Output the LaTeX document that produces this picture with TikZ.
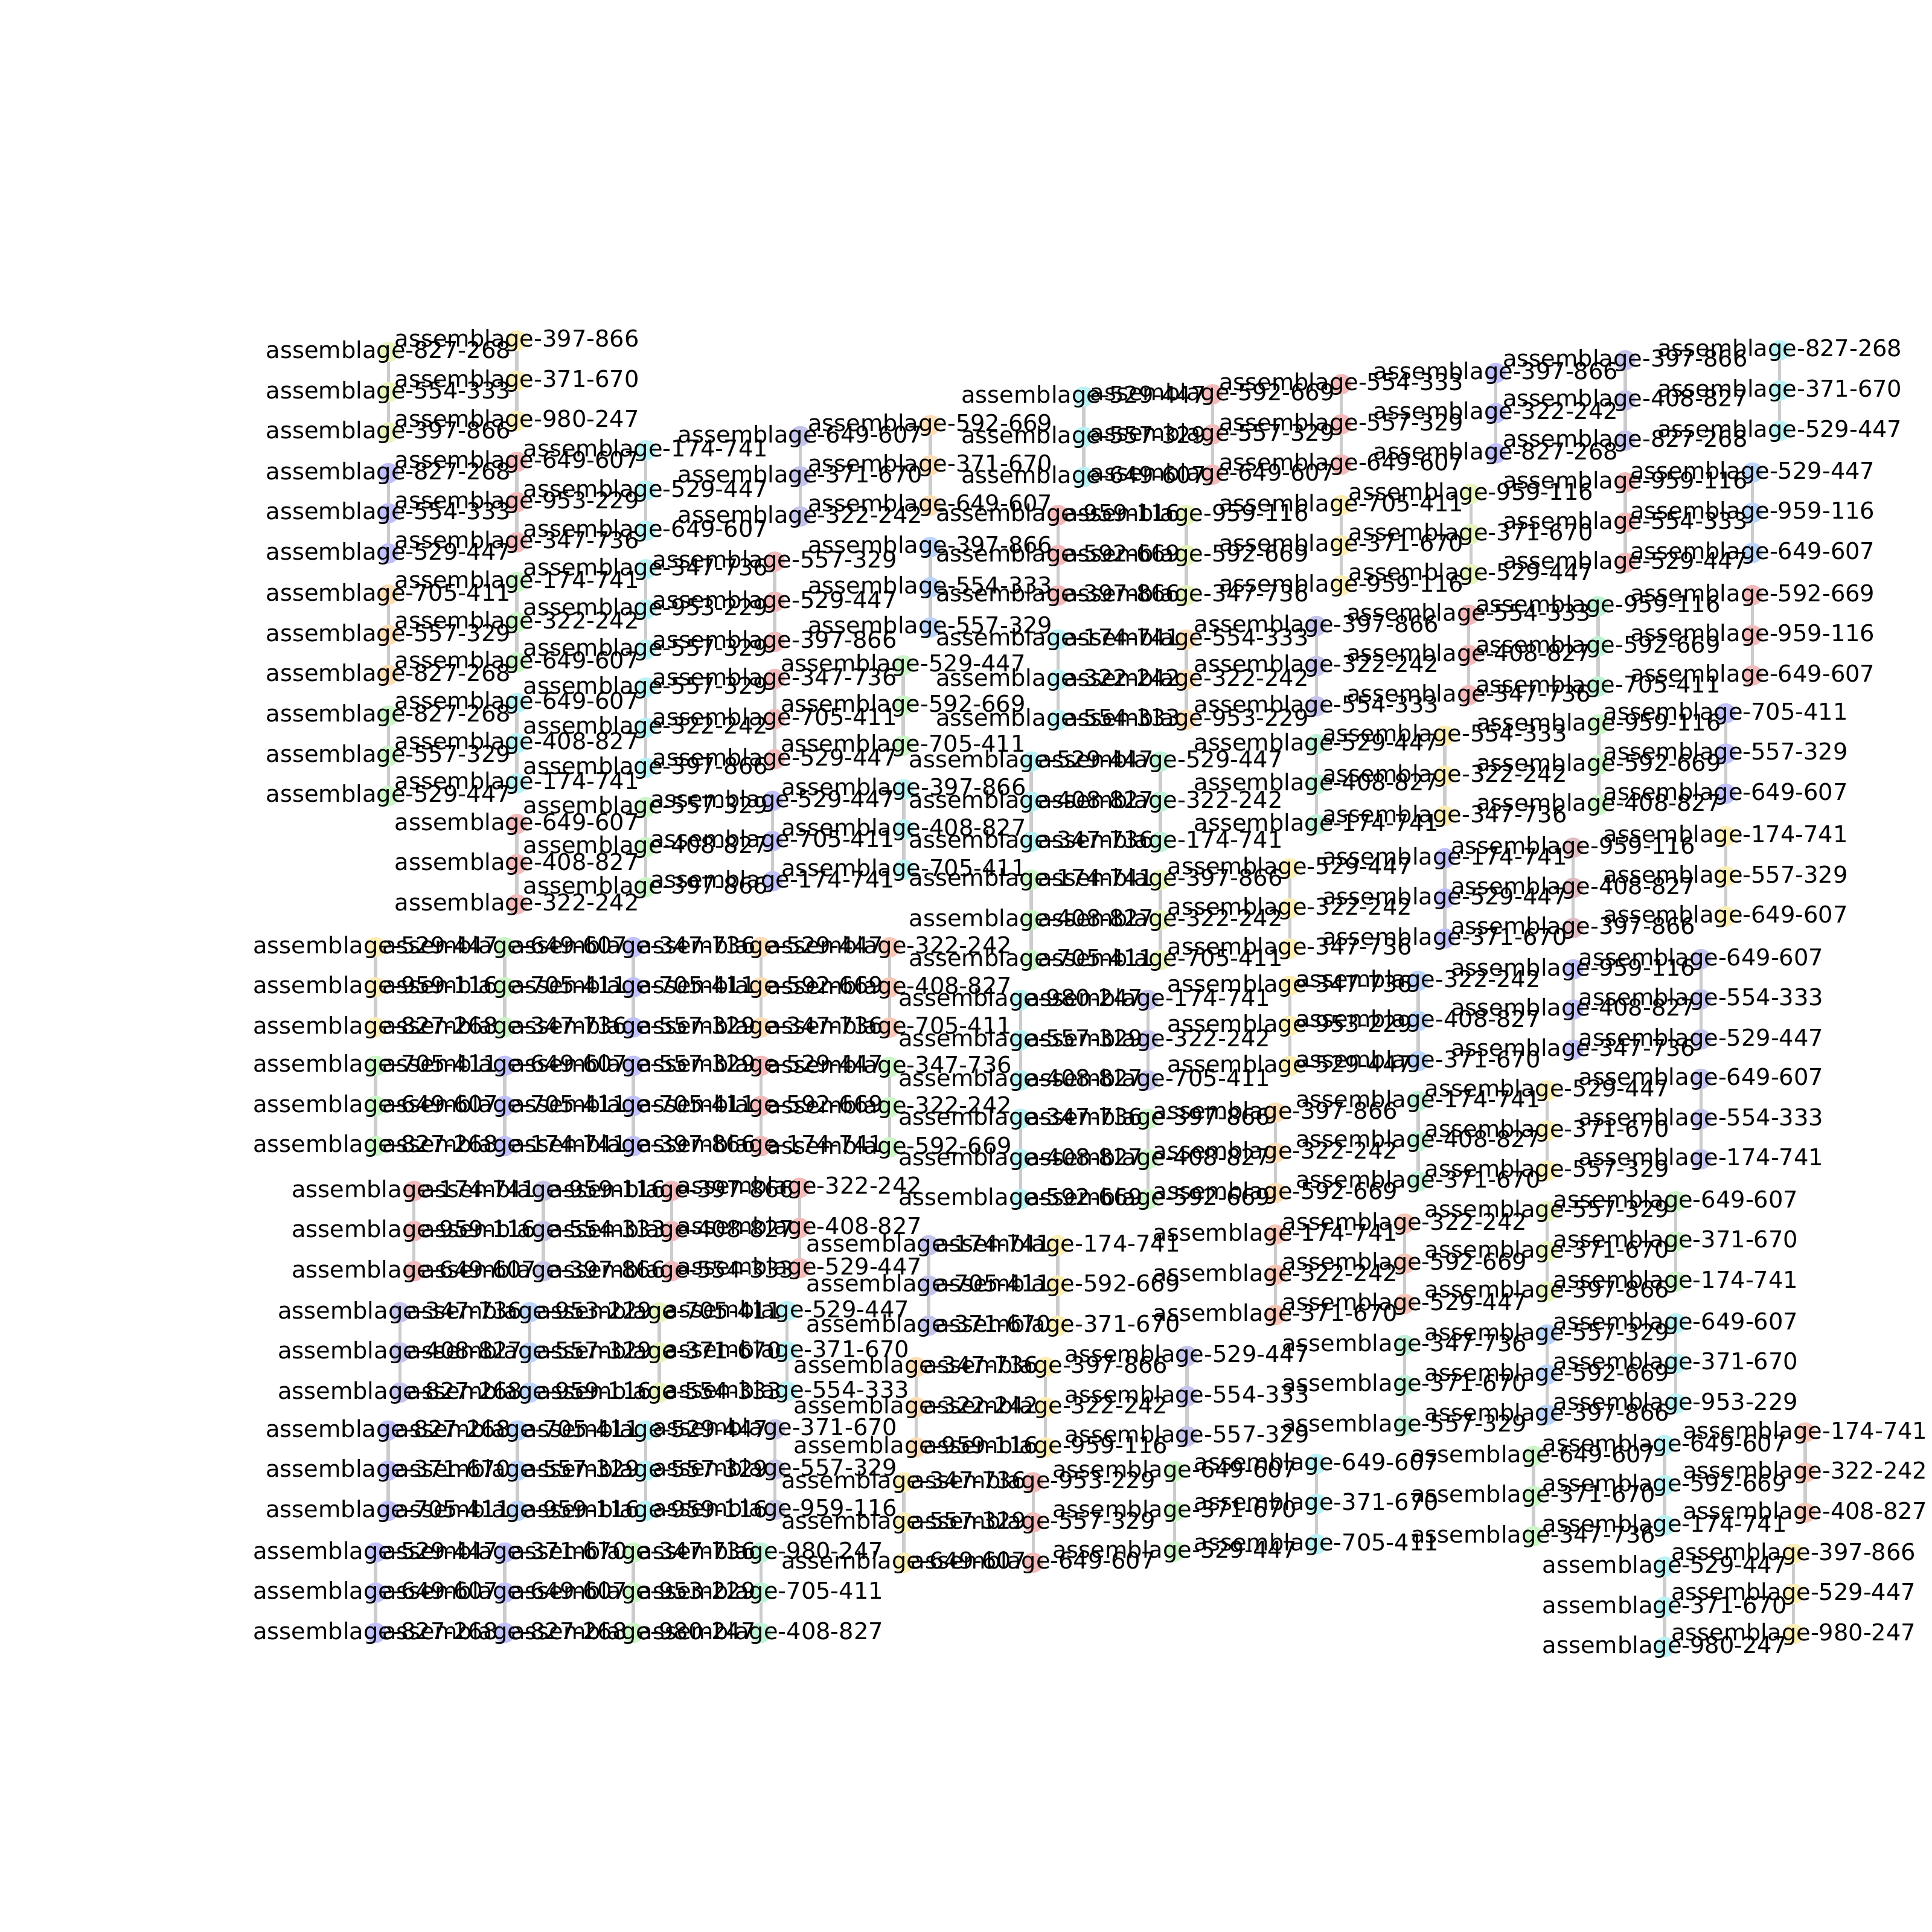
\documentclass[tikz,border=0pt]{standalone}
\usepackage{fontspec}
\setmainfont{DejaVu Sans}
\pgfdeclarelayer{bg}\pgfdeclarelayer{dots}
\pgfsetlayers{bg,dots,main}
\definecolor{YG}{RGB}{230,245,190}
\definecolor{YL}{RGB}{253,238,182}
\definecolor{BV}{RGB}{192,192,250}
\definecolor{RD}{RGB}{242,186,186}
\definecolor{CY}{RGB}{186,242,245}
\definecolor{OR}{RGB}{253,221,182}
\definecolor{LG}{RGB}{204,245,200}
\definecolor{LB}{RGB}{186,212,250}
\definecolor{VI}{RGB}{196,196,236}
\definecolor{MT}{RGB}{192,242,216}
\definecolor{MV}{RGB}{222,188,194}
\definecolor{SA}{RGB}{248,198,182}
\definecolor{VG}{RGB}{198,198,228}
\definecolor{LN}{RGB}{204,204,204}
\tikzset{
  dotnode/.style={circle,minimum size=3.3mm,inner sep=0pt,draw=none},
  linkline/.style={draw=LN,line width=1.5pt},
  lbl/.style={inner sep=0pt,font=\fontsize{10.7}{12}\selectfont}
}
\newcommand{\grp}[7]{%
  \begin{pgfonlayer}{dots}
  \path (#2,#3) node[dotnode,fill=#4] (#1a) {}
        (#2,#3+32.6) node[dotnode,fill=#4] (#1b) {}
        (#2,#3+65.2) node[dotnode,fill=#4] (#1c) {};
  \end{pgfonlayer}
  \begin{pgfonlayer}{bg}
  \draw[linkline] (#1a.center) -- (#1b.center) -- (#1c.center);
  \end{pgfonlayer}
  \node[lbl] (#1at) at (#1a) {assemblage-#5};
  \node[lbl] (#1bt) at (#1b) {assemblage-#6};
  \node[lbl] (#1ct) at (#1c) {assemblage-#7};
}
\begin{document}
\begin{tikzpicture}[x=0.2mm,y=-0.2mm]
\useasboundingbox (0,0) rectangle (1568,1568);
% block A
\grp{ga}{315.2}{285.7}{YG}{827-268}{554-333}{397-866}
\grp{gb}{419.5}{276.4}{YL}{397-866}{371-670}{980-247}
\grp{gc}{315.2}{384}{BV}{827-268}{554-333}{529-447}
\grp{gd}{419.5}{374.9}{RD}{649-607}{953-229}{347-736}
\grp{ge}{524}{365.5}{CY}{174-741}{529-447}{649-607}
\grp{gf}{315.2}{482.6}{OR}{705-411}{557-329}{827-268}
\grp{gg}{419.5}{472.3}{LG}{174-741}{322-242}{649-607}
\grp{gh}{524}{462}{CY}{347-736}{953-229}{557-329}
\grp{gi}{628.7}{455.8}{RD}{557-329}{529-447}{397-866}
\grp{gj}{315.2}{580.8}{LG}{827-268}{557-329}{529-447}
\grp{gk}{419.5}{570.5}{CY}{649-607}{408-827}{174-741}
\grp{gl}{524}{558}{CY}{557-329}{322-242}{397-866}
\grp{gm}{628.7}{551}{RD}{347-736}{705-411}{529-447}
\grp{gn}{419.5}{668.7}{RD}{649-607}{408-827}{322-242}
\grp{go}{524}{655}{LG}{557-329}{408-827}{397-866}
\grp{gp}{627}{650}{BV}{529-447}{705-411}{174-741}
\grp{gq}{733.5}{640.6}{CY}{397-866}{408-827}{705-411}
\grp{gr}{733}{540}{LG}{529-447}{592-669}{705-411}
% top middle
\grp{gs}{649.5}{354}{VI}{649-607}{371-670}{322-242}
\grp{gt}{755}{345}{OR}{592-669}{371-670}{649-607}
\grp{gu}{755}{444}{LB}{397-866}{554-333}{557-329}
\grp{gv}{879.5}{322}{CY}{529-447}{557-329}{649-607}
\grp{gw}{984}{320}{RD}{592-669}{557-329}{649-607}
\grp{gx}{858.8}{418}{RD}{959-116}{592-669}{397-866}
\grp{gy}{962.8}{418}{YG}{959-116}{592-669}{347-736}
\grp{gz}{858.8}{519}{CY}{174-741}{322-242}{554-333}
\grp{haa}{962.8}{519}{OR}{554-333}{322-242}{953-229}
\grp{hab}{837}{618}{CY}{529-447}{408-827}{347-736}
\grp{hac}{941.8}{618}{MT}{529-447}{322-242}{174-741}
\grp{had}{837}{714}{LG}{174-741}{408-827}{705-411}
\grp{hae}{941.8}{714}{YG}{397-866}{322-242}{705-411}
% top right
\grp{haf}{1088.6}{311.8}{RD}{554-333}{557-329}{649-607}
\grp{hag}{1214}{302.7}{BV}{397-866}{322-242}{827-268}
\grp{hah}{1319}{292.4}{VI}{397-866}{408-827}{827-268}
\grp{hai}{1444.4}{284.4}{CY}{827-268}{371-670}{529-447}
\grp{haj}{1088.6}{410}{YL}{705-411}{371-670}{959-116}
\grp{hak}{1193.8}{400.8}{YG}{959-116}{371-670}{529-447}
\grp{hal}{1319}{391.5}{RD}{959-116}{554-333}{529-447}
\grp{ham}{1422.3}{383.6}{LB}{529-447}{959-116}{649-607}
\grp{han}{1068.4}{508}{VI}{397-866}{322-242}{554-333}
\grp{hao}{1192}{499}{RD}{554-333}{408-827}{347-736}
\grp{hap}{1297}{492}{MT}{959-116}{592-669}{705-411}
\grp{haq}{1422.3}{483}{RD}{592-669}{959-116}{649-607}
\grp{har}{1068.4}{604}{MT}{529-447}{408-827}{174-741}
\grp{has}{1172.5}{597}{YL}{554-333}{322-242}{347-736}
\grp{hat}{1297.5}{588}{LG}{959-116}{592-669}{408-827}
\grp{hau}{1400.5}{579}{BV}{705-411}{557-329}{649-607}
\grp{hav}{1046.8}{704.6}{YL}{529-447}{322-242}{347-736}
\grp{haw}{1172.5}{696.5}{BV}{174-741}{529-447}{371-670}
\grp{hax}{1276.8}{688}{MV}{959-116}{408-827}{397-866}
\grp{hay}{1400.5}{678.6}{YL}{174-741}{557-329}{649-607}
\grp{haz}{1046.8}{800}{YL}{347-736}{953-229}{529-447}
\grp{hba}{1151}{796}{LB}{322-242}{408-827}{371-670}
\grp{hbb}{1276.8}{786.7}{BV}{959-116}{408-827}{347-736}
\grp{hbc}{1380.6}{778.4}{VI}{649-607}{554-333}{529-447}
\grp{hbd}{1380.6}{875.6}{VI}{649-607}{554-333}{174-741}
\grp{hbe}{1151}{893.6}{MT}{174-741}{408-827}{371-670}
\grp{hbf}{1255.6}{885}{YL}{529-447}{371-670}{557-329}
% middle
\grp{hbg}{722}{768.8}{SA}{322-242}{408-827}{705-411}
\grp{hbh}{722}{866}{LG}{347-736}{322-242}{592-669}
\grp{hbi}{828.4}{811.6}{CY}{980-247}{557-329}{408-827}
\grp{hbj}{931.8}{811.6}{VI}{174-741}{322-242}{705-411}
\grp{hbk}{828.4}{908}{CY}{347-736}{408-827}{592-669}
\grp{hbl}{931.8}{908}{LG}{397-866}{408-827}{592-669}
\grp{hbm}{1035}{903}{OR}{397-866}{322-242}{592-669}
\grp{hbn}{1035}{1002}{SA}{174-741}{322-242}{371-670}
\grp{hbo}{753.7}{1010.7}{VI}{174-741}{705-411}{371-670}
\grp{hbp}{858.5}{1010.7}{YL}{174-741}{592-669}{371-670}
\grp{hbq}{743.6}{1109.5}{OR}{347-736}{322-242}{959-116}
\grp{hbr}{848.5}{1109.5}{YL}{397-866}{322-242}{959-116}
\grp{hbs}{963.4}{1100.5}{VI}{529-447}{554-333}{557-329}
\grp{hbt}{733.5}{1203}{YL}{347-736}{557-329}{649-607}
\grp{hbu}{838.5}{1203}{RD}{953-229}{557-329}{649-607}
\grp{hbv}{953.4}{1194}{LG}{649-607}{371-670}{529-447}
\grp{hbw}{1068.4}{1188}{CY}{649-607}{371-670}{705-411}
\grp{hbx}{1140}{993}{SA}{322-242}{592-669}{529-447}
\grp{hby}{1140}{1091.6}{MT}{347-736}{371-670}{557-329}
\grp{hbz}{1255.6}{983}{YG}{557-329}{371-670}{397-866}
\grp{hca}{1255.6}{1083}{LB}{557-329}{592-669}{397-866}
\grp{hcb}{1360}{975}{LG}{649-607}{371-670}{174-741}
\grp{hcc}{1360}{1074}{CY}{649-607}{371-670}{953-229}
\grp{hcd}{1244.5}{1181.6}{LG}{649-607}{371-670}{347-736}
\grp{hce}{1351}{1172.8}{CY}{649-607}{592-669}{174-741}
\grp{hcf}{1351}{1271.5}{CY}{529-447}{371-670}{980-247}
\grp{hcg}{1465}{1162.6}{SA}{174-741}{322-242}{408-827}
\grp{hch}{1455.6}{1261}{YL}{397-866}{529-447}{980-247}
% block B
\grp{hci}{304.8}{768.7}{YL}{529-447}{959-116}{827-268}
\grp{hcj}{409.6}{768.7}{LG}{649-607}{705-411}{347-736}
\grp{hck}{514}{768.7}{BV}{347-736}{705-411}{557-329}
\grp{hcl}{617.6}{768.7}{OR}{529-447}{592-669}{347-736}
\grp{hcm}{304.8}{865}{LG}{705-411}{649-607}{827-268}
\grp{hcn}{409.6}{865}{BV}{649-607}{705-411}{174-741}
\grp{hco}{514}{865}{BV}{557-329}{705-411}{397-866}
\grp{hcp}{617.6}{865}{RD}{529-447}{592-669}{174-741}
% block C
\grp{hcq}{336}{966.5}{RD}{174-741}{959-116}{649-607}
\grp{hcr}{441}{966.5}{VG}{959-116}{554-333}{397-866}
\grp{hcs}{545}{966.5}{RD}{397-866}{408-827}{554-333}
\grp{hct}{649}{964}{RD}{322-242}{408-827}{529-447}
% block D
\grp{hcu}{324.7}{1065}{VI}{347-736}{408-827}{827-268}
\grp{hcv}{430}{1065}{LB}{953-229}{557-329}{959-116}
\grp{hcw}{535}{1065}{YG}{705-411}{371-670}{554-333}
\grp{hcx}{638.6}{1064}{CY}{529-447}{371-670}{554-333}
% block E
\grp{hcy}{315}{1161}{BV}{827-268}{371-670}{705-411}
\grp{hcz}{420}{1161}{LB}{705-411}{557-329}{959-116}
\grp{hda}{524}{1161}{CY}{529-447}{557-329}{959-116}
\grp{hdb}{629}{1160}{VG}{371-670}{557-329}{959-116}
% block F
\grp{hdc}{304.8}{1260}{BV}{529-447}{649-607}{827-268}
\grp{hdd}{409.6}{1260}{BV}{371-670}{649-607}{827-268}
\grp{hde}{514}{1260}{LG}{347-736}{953-229}{980-247}
\grp{hdf}{617.6}{1260}{MT}{980-247}{705-411}{408-827}
\end{tikzpicture}
\end{document}
